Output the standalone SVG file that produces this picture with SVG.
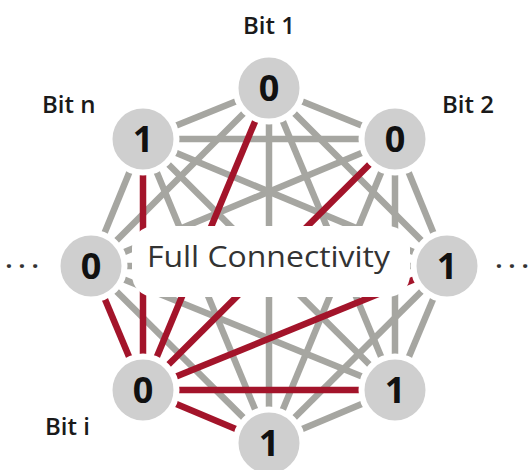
<svg xmlns="http://www.w3.org/2000/svg" width="528" height="470" viewBox="0 0 528 470">
  <style>
    .g { stroke: #a6a6a1; stroke-width: 6.5; fill: none; }
    .r { stroke: #a3142a; stroke-width: 6.5; fill: none; }
    .node circle { fill: #cfcfcf; stroke: #ffffff; stroke-width: 6; }
    .node text { font-family: "Open Sans", "DejaVu Sans", sans-serif; font-weight: bold; font-size: 36px; fill: #111111; text-anchor: middle; }
    .lbl { font-family: "Open Sans", "DejaVu Sans", sans-serif; font-size: 24px; font-weight: 600; fill: #1a1a1a; }
    .dots { font-family: "Open Sans", "DejaVu Sans", sans-serif; font-size: 24px; font-weight: bold; fill: #333333; text-anchor: middle; }
  </style>
  <rect width="528" height="470" fill="#ffffff"/>
  <g id="connectors">
    <!-- gray edges -->
    <line class="g" x1="269" y1="88" x2="395" y2="139"/>
    <line class="g" x1="269" y1="88" x2="447" y2="266"/>
    <line class="g" x1="269" y1="88" x2="395" y2="390"/>
    <line class="g" x1="269" y1="88" x2="269" y2="443"/>
    <line class="g" x1="269" y1="88" x2="91" y2="266"/>
    <line class="g" x1="269" y1="88" x2="143" y2="139"/>
    <line class="g" x1="395" y1="139" x2="447" y2="266"/>
    <line class="g" x1="395" y1="139" x2="395" y2="390"/>
    <line class="g" x1="395" y1="139" x2="269" y2="443"/>
    <line class="g" x1="395" y1="139" x2="91" y2="266"/>
    <line class="g" x1="395" y1="139" x2="143" y2="139"/>
    <line class="g" x1="447" y1="266" x2="395" y2="390"/>
    <line class="g" x1="447" y1="266" x2="269" y2="443"/>
    <line class="g" x1="447" y1="266" x2="91" y2="266"/>
    <line class="g" x1="447" y1="266" x2="143" y2="139"/>
    <line class="g" x1="395" y1="390" x2="269" y2="443"/>
    <line class="g" x1="395" y1="390" x2="91" y2="266"/>
    <line class="g" x1="395" y1="390" x2="143" y2="139"/>
    <line class="g" x1="269" y1="443" x2="91" y2="266"/>
    <line class="g" x1="269" y1="443" x2="143" y2="139"/>
    <line class="g" x1="91" y1="266" x2="143" y2="139"/>
    <!-- red edges from Bit i -->
    <line class="r" x1="143" y1="390" x2="269" y2="88"/>
    <line class="r" x1="143" y1="390" x2="395" y2="139"/>
    <line class="r" x1="143" y1="390" x2="447" y2="266"/>
    <line class="r" x1="143" y1="390" x2="395" y2="390"/>
    <line class="r" x1="143" y1="390" x2="269" y2="443"/>
    <line class="r" x1="143" y1="390" x2="91" y2="266"/>
    <line class="r" x1="143" y1="390" x2="143" y2="139"/>
  </g>
  <g id="center-label">
    <rect x="132" y="226" width="278" height="71" rx="22" ry="22" fill="#ffffff"/>
    <text x="268.5" y="267" font-family="'Open Sans', 'DejaVu Sans', sans-serif" font-size="30" fill="#333333" text-anchor="middle" textLength="243" lengthAdjust="spacingAndGlyphs">Full Connectivity</text>
  </g>
  <g id="node-bit1" class="node"><circle cx="269" cy="88" r="33.5"/><text x="269" y="101">0</text></g>
  <g id="node-bit2" class="node"><circle cx="395" cy="139" r="33.5"/><text x="395" y="152">0</text></g>
  <g id="node-right" class="node"><circle cx="447" cy="266" r="33.5"/><text x="447" y="279">1</text></g>
  <g id="node-bottom-right" class="node"><circle cx="395" cy="390" r="33.5"/><text x="395" y="403">1</text></g>
  <g id="node-bottom" class="node"><circle cx="269" cy="443" r="33.5"/><text x="269" y="456">1</text></g>
  <g id="node-biti" class="node"><circle cx="143" cy="390" r="33.5"/><text x="143" y="403">0</text></g>
  <g id="node-left" class="node"><circle cx="91" cy="266" r="33.5"/><text x="91" y="279">0</text></g>
  <g id="node-bitn" class="node"><circle cx="143" cy="139" r="33.5"/><text x="143" y="152">1</text></g>
  <g id="labels">
    <text class="lbl" x="269" y="34" text-anchor="middle">Bit 1</text>
    <text class="lbl" x="42" y="113">Bit n</text>
    <text class="lbl" x="442" y="113">Bit 2</text>
    <text class="lbl" x="45" y="435">Bit i</text>
    <text class="dots" x="22" y="274">· · ·</text>
    <text class="dots" x="512" y="274">· · ·</text>
  </g>
</svg>
